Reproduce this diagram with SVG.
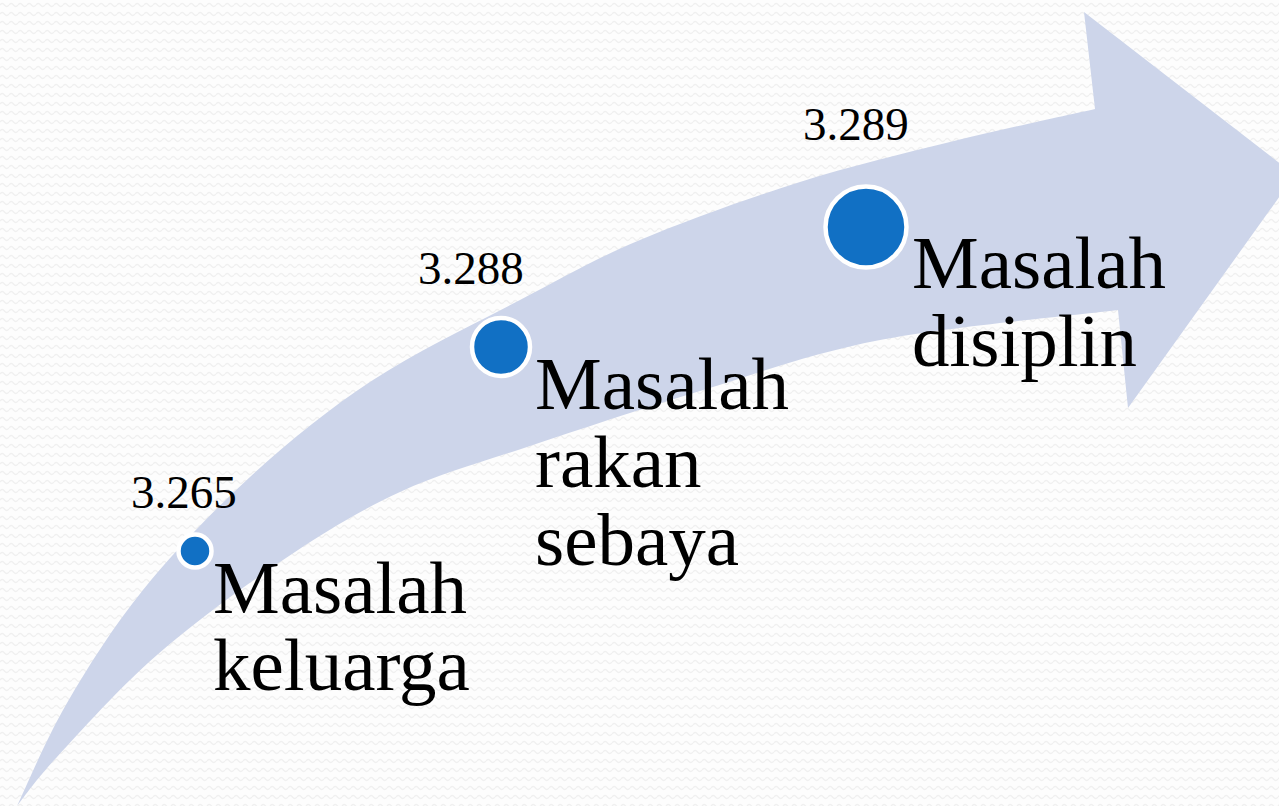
<svg xmlns="http://www.w3.org/2000/svg" width="1279" height="806" viewBox="0 0 1279 806">
<defs>
<pattern id="bg" width="9" height="9" patternUnits="userSpaceOnUse">
<path d="M0,5 Q2.25,2 4.5,5 T9,5" fill="none" stroke="#f0f0f0" stroke-width="1.3"/>
</pattern>
<style>
.dot{fill:#1170C4;stroke:#ffffff;stroke-width:4.5}
.lbl{font-family:"Liberation Serif","DejaVu Serif",serif;font-size:75px;fill:#000000}
.num{font-family:"Liberation Serif","DejaVu Serif",serif;font-size:47px;fill:#000000}
</style>
</defs>
<rect width="1279" height="806" fill="#fdfdfd"/>
<rect width="1279" height="806" fill="url(#bg)"/>
<g id="arrow">
<path fill="#CDD5EA" d="M17,806 C25.3,788.8 46,739 67,703 C88,667 112.5,627.7 143,590 C173.5,552.3 211.7,512 250,477 C288.3,442 328,409.5 373,380 C418,350.5 475.5,323.3 520,300 C564.5,276.7 593.3,259.7 640,240 C686.7,220.3 748.3,198.3 800,182 C851.7,165.7 900.8,154.2 950,142 C999.2,129.8 1070.8,114.5 1095,109 L1084,12 L1295,175 L1128,408 L1118,310 C1078.3,315 949.7,326.5 880,340 C810.3,353.5 758.3,373.3 700,391 C641.7,408.7 580,429.2 530,446 C480,462.8 441.2,473 400,492 C358.8,511 323.5,532.8 283,560 C242.5,587.2 194.7,622.2 157,655 C119.3,687.8 80.3,731.8 57,757 C33.7,782.2 23.7,797.8 17,806 Z"/>
</g>
<g id="node-keluarga">
<circle class="dot" cx="195" cy="551" r="16.5"/>
<text class="num" x="131" y="508">3.265</text>
<text class="lbl" x="213" y="613">Masalah</text>
<text class="lbl" x="213" y="690">keluarga</text>
</g>
<g id="node-rakan">
<circle class="dot" cx="501" cy="347" r="29"/>
<text class="num" x="418" y="284">3.288</text>
<text class="lbl" x="535" y="409">Masalah</text>
<text class="lbl" x="535" y="487">rakan</text>
<text class="lbl" x="535" y="565">sebaya</text>
</g>
<g id="node-disiplin">
<circle class="dot" cx="866" cy="227" r="40.5"/>
<text class="num" x="803" y="140">3.289</text>
<text class="lbl" x="912" y="288">Masalah</text>
<text class="lbl" x="912" y="366">disiplin</text>
</g>
</svg>
